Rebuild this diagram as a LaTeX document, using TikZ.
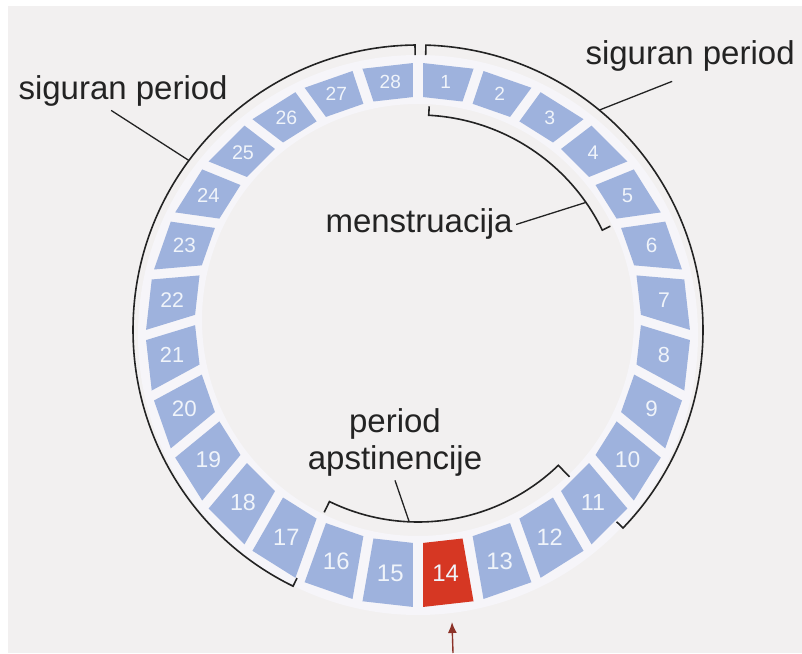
\documentclass[tikz,border=0pt]{standalone}
\usepackage{fontspec}
\setmainfont{Liberation Sans}
\usetikzlibrary{positioning}
\usetikzlibrary{calc}
\usetikzlibrary{arrows.meta}
\definecolor{paper}{RGB}{242,240,240}
\definecolor{halo}{RGB}{246,245,249}
\definecolor{day}{RGB}{158,178,221}
\definecolor{ovul}{RGB}{214,55,35}
\definecolor{ink}{RGB}{35,35,35}
\definecolor{arrowred}{RGB}{140,50,40}

\begin{document}
\begin{tikzpicture}[x=1pt, y=1pt,
    txt/.style={font=\fontsize{33}{37}\selectfont, text=ink},
    bracket/.style={draw=ink, line width=1.6pt},
    leader/.style={draw=ink, line width=1.3pt},
    daynum/.style={text=white!85!day, inner sep=0pt}]
    % Page
    \fill[white] (0,0) rectangle (802,653);
    \fill[paper] (8,0) rectangle (802,647);
    \useasboundingbox (0,0) rectangle (802,653);
    \coordinate (c) at (418,333);   % ring centre
    \coordinate (o) at (418,318);   % centre of outer edges of days
    \coordinate (a) at (418,323);   % centre of outer arcs

    % Light band behind the days
    \fill[halo, even odd rule] (o) circle (280pt) (c) circle (216pt);

    % Days
    \foreach \d in {1,...,28} {
        \pgfmathsetmacro{\a}{90-(\d-0.5)*360/28}
        \pgfmathsetmacro{\fs}{21.5-2.5*sin(\a)}
        \ifnum\d=14 \def\col{ovul}\else\def\col{day}\fi
        \fill[\col] ($(c)+(\a+5.1:223pt)$) -- ($(o)+(\a+5.35:272pt)$)
            -- ($(o)+(\a-5.35:272pt)$) -- ($(c)+(\a-5.1:223pt)$) -- cycle;
        \node[daynum, font=\fontsize{\fs}{\fs}\selectfont] (d\d) at ($(c)+(0,-7.5)+(\a:247.5pt)$) {\d};
    }

    % Safe periods
    \draw[bracket] ($(a)+(90.6:275pt)$) -- ($(a)+(90.6:285pt)$)
        arc[start angle=90.6, end angle=244, radius=285pt] -- ($(a)+(244:276pt)$);
    \draw[bracket] ($(a)+(88.4:275pt)$) -- ($(a)+(88.4:285pt)$)
        arc[start angle=88.4, end angle=-44, radius=285pt] -- ($(a)+(-44:276pt)$);

    % Menstruation and abstinence
    \draw[bracket] ($(c)+(87:214pt)$) -- ($(c)+(87:205pt)$)
        arc[start angle=87, end angle=26, radius=205pt] -- ($(c)+(26:214pt)$);
    \draw[bracket] ($(c)+(244:214pt)$) -- ($(c)+(244:202pt)$)
        arc[start angle=244, end angle=314, radius=202pt] -- ($(c)+(314:218pt)$);

    % Leader ends on the brackets
    \coordinate (ls) at ($(a)+(143.5:285pt)$);
    \coordinate (rs) at ($(a)+(50.5:285pt)$);
    \coordinate (ms) at ($(c)+(35:205pt)$);
    \coordinate (as) at ($(c)+(267.5:202pt)$);

    % Labels
    \node[txt, anchor=base west] (lsafe) at (15,553) {siguran period};
    \node[txt, anchor=base west] (rsafe) at (582,588) {siguran period};
    \node[txt, anchor=base west] (mens) at (322,420) {menstruacija};
    \node[txt, align=center, anchor=base] (abst) at (395,183) {period\\apstinencije};

    \draw[leader] ([xshift=-12]lsafe.south) -- (ls);
    \draw[leader] ([xshift=-18, yshift=-6]rsafe.south) -- (rs);
    \draw[leader] (mens.east) -- (ms);
    \draw[leader] (abst.south) -- (as);

    % Ovulation marker
    \coordinate (foot) at (453,0);
    \coordinate (tip) at (452,31);
    \draw[-{Latex[length=11pt, width=9pt]}, arrowred, line width=1.4pt] (foot) -- (tip);
\end{tikzpicture}
\end{document}
